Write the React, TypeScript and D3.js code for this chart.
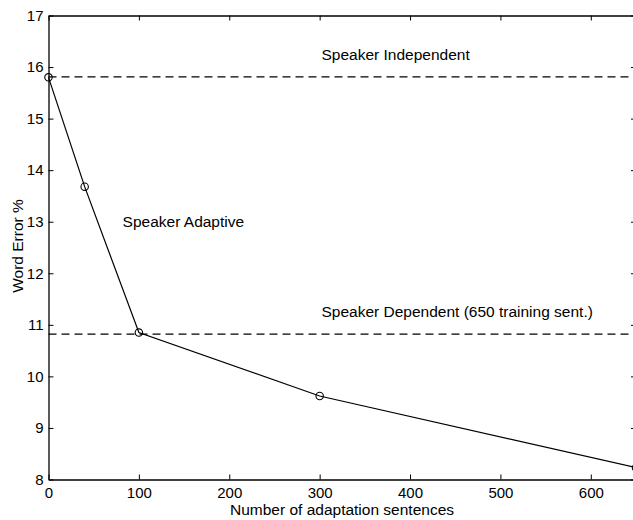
import React, { useEffect, useRef } from "react";
import * as d3 from "d3";

// adaptation curve (word error % vs number of adaptation sentences)
const sentences = [0, 40, 100, 300, 650];
const wordError = [15.8, 13.68, 10.85, 9.62, 8.23];

// reference levels
const refLabels = ["Speaker Independent", "Speaker Dependent (650 training sent.)"];
const refValues = [15.81, 10.82];

const xTicks = [0, 100, 200, 300, 400, 500, 600];
const yTicks = [8, 9, 10, 11, 12, 13, 14, 15, 16, 17];

const FONT = "'Liberation Sans', Arial, Helvetica, sans-serif";

export default function App() {
  const ref = useRef<SVGSVGElement>(null);

  useEffect(() => {
    const W = 633, H = 520;
    const margin = { top: 15.5, left: 48.5 };
    const x = d3.scaleLinear().domain([0, 650]).range([margin.left, 636]);
    const y = d3.scaleLinear().domain([8, 17]).range([479.5, margin.top]);

    const svg = d3.select(ref.current).attr("width", W).attr("height", H);
    svg.selectAll("*").remove();
    svg.append("rect").attr("width", W).attr("height", H).attr("fill", "#fff");

    const g = svg.append("g").attr("font-family", FONT);

    // box with inward ticks on all sides (matlab style)
    const styleAxis = (sel: any, showText: boolean) => {
      sel.select(".domain").attr("stroke", "#000").attr("stroke-width", 1.3);
      sel.selectAll(".tick line").attr("stroke", "#000").attr("stroke-width", 1);
      sel.selectAll(".tick text")
        .attr("fill", "#000")
        .attr("font-size", 15)
        .attr("font-family", FONT)
        .style("display", showText ? null : "none");
    };

    g.append("g")
      .attr("transform", `translate(0,${y(8)})`)
      .call(d3.axisBottom(x).tickValues(xTicks).tickSizeInner(-5).tickSizeOuter(0).tickPadding(8))
      .call((s: any) => styleAxis(s, true))
      .attr("font-family", FONT);

    g.append("g")
      .attr("transform", `translate(0,${y(17)})`)
      .call(d3.axisTop(x).tickValues(xTicks).tickSizeInner(-5).tickSizeOuter(0))
      .call((s: any) => styleAxis(s, false));

    g.append("g")
      .attr("transform", `translate(${x(0)},0)`)
      .call(d3.axisLeft(y).tickValues(yTicks).tickSizeInner(-5).tickSizeOuter(0).tickPadding(5))
      .call((s: any) => styleAxis(s, true))
      .attr("font-family", FONT);

    g.append("g")
      .attr("transform", `translate(${x(650)},0)`)
      .call(d3.axisRight(y).tickValues(yTicks).tickSizeInner(-5).tickSizeOuter(0))
      .call((s: any) => styleAxis(s, false));

    // dashed reference lines
    g.selectAll(".ref")
      .data(refValues)
      .join("line")
      .attr("class", "ref")
      .attr("x1", x(0))
      .attr("x2", x(650))
      .attr("y1", (d) => y(d))
      .attr("y2", (d) => y(d))
      .attr("stroke", "#000")
      .attr("stroke-width", 1.1)
      .attr("stroke-dasharray", "8,5");

    // adaptive curve
    const pts = sentences.map((s, i) => [s, wordError[i]] as [number, number]);
    g.append("path")
      .datum(pts)
      .attr("fill", "none")
      .attr("stroke", "#000")
      .attr("stroke-width", 1.2)
      .attr("d", d3.line().x((d) => x(d[0])).y((d) => y(d[1])));

    g.selectAll(".pt")
      .data(pts)
      .join("circle")
      .attr("class", "pt")
      .attr("cx", (d) => x(d[0]))
      .attr("cy", (d) => y(d[1]))
      .attr("r", 3.7)
      .attr("fill", "none")
      .attr("stroke", "#000")
      .attr("stroke-width", 1.1);

    // annotations
    const ann = g.append("g").attr("font-size", 15.5).attr("fill", "#000");
    ann.append("text").attr("x", x(302)).attr("y", y(16.14)).text(refLabels[0]);
    ann.append("text").attr("x", x(302)).attr("y", y(11.16)).text(refLabels[1]);
    ann.append("text").attr("x", x(82)).attr("y", y(12.9)).text("Speaker Adaptive");

    // axis titles
    g.append("text")
      .attr("x", 342)
      .attr("y", 515)
      .attr("text-anchor", "middle")
      .attr("font-size", 15.5)
      .text("Number of adaptation sentences");

    g.append("text")
      .attr("transform", `translate(23,246) rotate(-90)`)
      .attr("text-anchor", "middle")
      .attr("font-size", 15.5)
      .text("Word Error %");
  }, []);

  return (
    <svg ref={ref} style={{ position: "absolute", left: 0, top: 0, display: "block" }}></svg>
  );
}
